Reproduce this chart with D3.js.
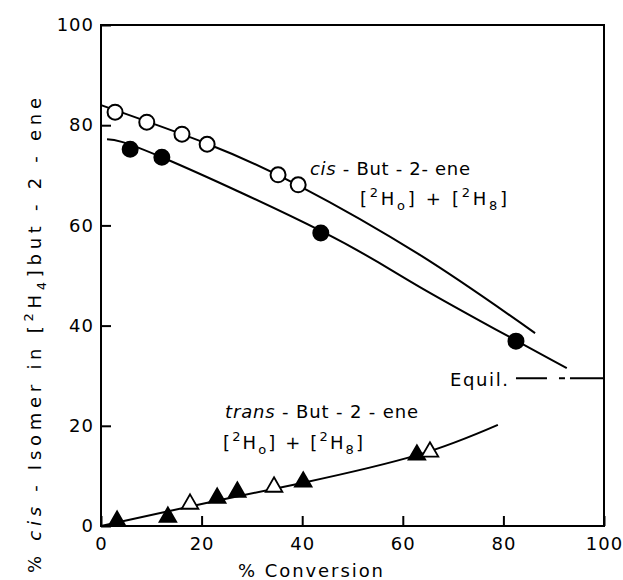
<!DOCTYPE html>
<html>
<head>
<meta charset="utf-8">
<script src="https://cdn.jsdelivr.net/npm/d3@7"></script>
<style>
  body { margin: 0; background: #fff; }
  text { font-family: "DejaVu Sans", sans-serif; fill: #000; }
</style>
</head>
<body>
<div id="chart"></div>
<script>
// chart values
var xTicks = [0, 20, 40, 60, 80, 100];
var yTicks = [0, 20, 40, 60, 80, 100];

// cis-but-2-ene, open circles ([2H0]) and filled circles ([2H8])
var cisOpen = [[2.8, 82.6], [9.1, 80.6], [16.1, 78.2], [21.1, 76.2], [35.2, 70.1], [39.2, 68.1]];
var cisFilled = [[5.8, 75.2], [12.1, 73.6], [43.7, 58.5], [82.5, 36.9]];
// drawn curves through them
var cisOpenCurve = [[0, 84.0], [21.1, 76.3], [39.2, 68.0], [63.4, 54.1], [86.3, 38.5]];
var cisFilledCurve = [[1.2, 77.2], [12.1, 73.6], [44.1, 58.7], [63.4, 47.7], [92.6, 31.5]];

// trans-but-2-ene, filled and open triangles
var transFilled = [[3.2, 1.0], [13.3, 1.8], [23.1, 5.6], [27.1, 6.8], [40.2, 8.8], [62.8, 14.2]];
var transOpen = [[17.7, 4.4], [34.4, 7.8], [65.4, 14.8]];
var transCurve = [[0, 0], [20, 4.4], [40, 8.6], [63, 14.2], [78.9, 20.2]];

var equil = 29.5;
var equilFrom = 82.5;

var width = 623, height = 580;
var margin = {top: 25, right: 19, bottom: 54, left: 101};

var svg = d3.select("#chart").append("svg")
    .attr("width", width)
    .attr("height", height);

var x = d3.scaleLinear().domain([0, 100]).range([margin.left, width - margin.right]);
var y = d3.scaleLinear().domain([0, 100]).range([height - margin.bottom, margin.top]);

// frame
svg.append("rect")
    .attr("x", x(0)).attr("y", y(100))
    .attr("width", x(100) - x(0)).attr("height", y(0) - y(100))
    .attr("fill", "none").attr("stroke", "#000").attr("stroke-width", 2);

var xAxis = svg.append("g")
    .attr("transform", "translate(0," + y(0) + ")")
    .call(d3.axisBottom(x).tickValues(xTicks).tickSizeInner(-10).tickSizeOuter(0).tickPadding(11));

var yAxis = svg.append("g")
    .attr("transform", "translate(" + x(0) + ",0)")
    .call(d3.axisLeft(y).tickValues(yTicks).tickSizeInner(-10).tickSizeOuter(0).tickPadding(7));

[xAxis, yAxis].forEach(function(g){
  g.select(".domain").remove();
  g.selectAll(".tick line").attr("stroke", "#000").attr("stroke-width", 2);
  g.selectAll(".tick text")
    .attr("font-size", 18)
    .attr("letter-spacing", 1)
    .attr("font-family", "DejaVu Sans");
});

// curves
var line = d3.line()
    .x(function(d){ return x(d[0]); })
    .y(function(d){ return y(d[1]); })
    .curve(d3.curveNatural);

[cisOpenCurve, cisFilledCurve, transCurve].forEach(function(c){
  svg.append("path")
    .attr("d", line(c))
    .attr("fill", "none")
    .attr("stroke", "#000")
    .attr("stroke-width", 2);
});

// equilibrium line
svg.append("line")
    .attr("x1", x(equilFrom)).attr("x2", x(100))
    .attr("y1", y(equil)).attr("y2", y(equil))
    .attr("stroke", "#000").attr("stroke-width", 2)
    .attr("stroke-dasharray", "31 12 6 5 40");

// markers
function circles(data, fill){
  svg.append("g").selectAll("circle")
    .data(data).enter().append("circle")
    .attr("cx", function(d){ return x(d[0]); })
    .attr("cy", function(d){ return y(d[1]); })
    .attr("r", 7.5)
    .attr("fill", fill)
    .attr("stroke", "#000")
    .attr("stroke-width", 2);
}
circles(cisOpen, "#fff");
circles(cisFilled, "#000");

var tri = d3.symbol().type(d3.symbolTriangle).size(120);
function triangles(data, fill){
  svg.append("g").selectAll("path")
    .data(data).enter().append("path")
    .attr("d", tri)
    .attr("transform", function(d){ return "translate(" + x(d[0]) + "," + y(d[1]) + ")"; })
    .attr("fill", fill)
    .attr("stroke", "#000")
    .attr("stroke-width", 1.8)
    .attr("stroke-linejoin", "miter");
}
triangles(transFilled, "#000");
triangles(transOpen, "#fff");

// labels with isotopic sub/superscripts
function isoLabel(xp, yp, len){
  var t = svg.append("text").attr("x", xp).attr("y", yp).attr("font-size", 18)
      .attr("textLength", len).attr("lengthAdjust", "spacing");
  t.append("tspan").text("[");
  t.append("tspan").attr("font-size", 13).attr("dy", -8).text("2");
  t.append("tspan").attr("dy", 8).text("H");
  t.append("tspan").attr("font-size", 13).attr("dy", 5).text("o");
  t.append("tspan").attr("dy", -5).text("] + [");
  t.append("tspan").attr("font-size", 13).attr("dy", -8).text("2");
  t.append("tspan").attr("dy", 8).text("H");
  t.append("tspan").attr("font-size", 13).attr("dy", 5).text("8");
  t.append("tspan").attr("dy", -5).text("]");
}

var cisT = svg.append("text").attr("x", 310).attr("y", 175).attr("font-size", 18)
    .attr("textLength", 160).attr("lengthAdjust", "spacing");
cisT.append("tspan").attr("font-style", "italic").text("cis");
cisT.append("tspan").text(" - But - 2- ene");
isoLabel(360, 205, 147);

var transT = svg.append("text").attr("x", 225).attr("y", 418).attr("font-size", 18)
    .attr("textLength", 193).attr("lengthAdjust", "spacing");
transT.append("tspan").attr("font-style", "italic").text("trans");
transT.append("tspan").text(" - But - 2 - ene");
isoLabel(223, 449, 140);

svg.append("text").attr("x", 450).attr("y", 386).attr("font-size", 18)
    .attr("textLength", 58).attr("lengthAdjust", "spacing").text("Equil.");

// axis titles
svg.append("text")
    .attr("x", 238).attr("y", 577).attr("font-size", 18)
    .attr("textLength", 145).attr("lengthAdjust", "spacing")
    .text("% Conversion");

var yl = svg.append("text")
    .attr("transform", "translate(41,573) rotate(-90)")
    .attr("font-size", 18)
    .attr("textLength", 475).attr("lengthAdjust", "spacing");
yl.append("tspan").text("% ");
yl.append("tspan").attr("font-style", "italic").text("cis");
yl.append("tspan").text(" - Isomer in [");
yl.append("tspan").attr("font-size", 13).attr("dy", -8).text("2");
yl.append("tspan").attr("dy", 8).text("H");
yl.append("tspan").attr("font-size", 13).attr("dy", 5).text("4");
yl.append("tspan").attr("dy", -5).text("]but - 2 - ene");
</script>
</body>
</html>
